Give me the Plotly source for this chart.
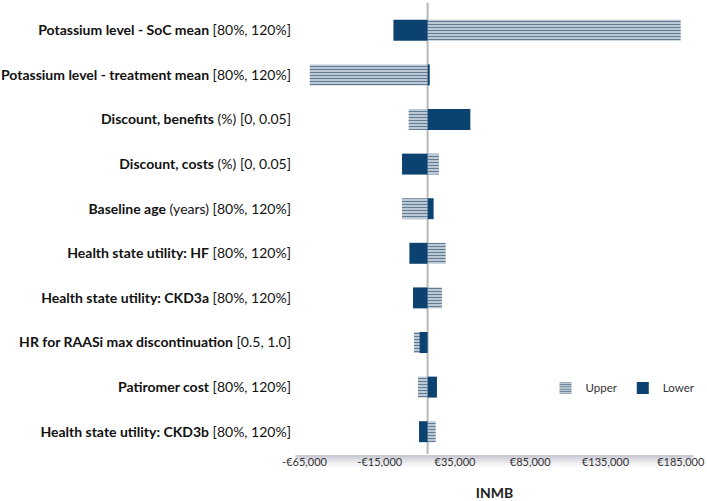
import plotly.graph_objects as go

# ---- data ----
params_bold = [
    "Potassium level - SoC mean",
    "Potassium level - treatment mean",
    "Discount, benefits",
    "Discount, costs",
    "Baseline age",
    "Health state utility: HF",
    "Health state utility: CKD3a",
    "HR for RAASi max discontinuation",
    "Patiromer cost",
    "Health state utility: CKD3b",
]
params_rest = [
    "[80%, 120%]",
    "[80%, 120%]",
    "(%) [0, 0.05]",
    "(%) [0, 0.05]",
    "(years) [80%, 120%]",
    "[80%, 120%]",
    "[80%, 120%]",
    "[0.5, 1.0]",
    "[80%, 120%]",
    "[80%, 120%]",
]
base_inmb = 16800
upper_vals = [185000, -61500, 4200, 24300, -200, 28800, 26300, 7800, 10400, 22200]
lower_vals = [-5900, 18200, 45200, -200, 20800, 4700, 7100, 11500, 23000, 11100]
tick_vals = [-65000, -15000, 35000, 85000, 135000, 185000]
tick_text = ["-€65,000", "-€15,000", "€35,000", "€85,000", "€135,000", "€185,000"]

labels = [f"<b>{b}</b> {r}" for b, r in zip(params_bold, params_rest)]

DARK = "#0b4270"
fig = go.Figure()
fig.add_trace(go.Bar(
    name="Upper", y=labels, x=[v - base_inmb for v in upper_vals], base=base_inmb,
    orientation="h", width=0.47,
    marker=dict(color="#cfd9e2", line=dict(width=0),
                pattern=dict(shape="-", fgcolor="#607d95", bgcolor="#cfd9e2",
                             size=3, solidity=0.45, fillmode="replace")),
))
fig.add_trace(go.Bar(
    name="Lower", y=labels, x=[v - base_inmb for v in lower_vals], base=base_inmb,
    orientation="h", width=0.47,
    marker=dict(color=DARK, line=dict(width=0)),
))

# center (base case) line
fig.add_shape(type="line", xref="x", yref="paper", x0=base_inmb, x1=base_inmb,
              y0=0, y1=1.012, line=dict(color="#b8b8b8", width=2), layer="below")
# axis shadow band (soft gradient fading downward)
px = 1 / 446.0
for i, op in enumerate([0.55, 0.45, 0.34, 0.24, 0.14, 0.07]):
    fig.add_shape(type="rect", xref="paper", yref="paper",
                  x0=-0.012 + i * 0.003, x1=1.012 - i * 0.003,
                  y0=-(1 + 2 * i + 2) * px, y1=-(1 + 2 * i) * px,
                  line=dict(width=0), fillcolor=f"rgba(160,160,180,{op})", layer="below")

fig.update_layout(
    width=707, height=501,
    margin=dict(l=300, r=17, t=8, b=47),
    barmode="overlay",
    plot_bgcolor="white", paper_bgcolor="white",
    font=dict(family="Lato", color="#1a1a1a"),
    showlegend=True,
    legend=dict(orientation="h", x=1.027, xanchor="right",
                y=0.148, yanchor="middle",
                font=dict(size=11.5, color="#333"), bgcolor="rgba(0,0,0,0)",
                traceorder="normal", itemwidth=30),
    xaxis=dict(range=[-68000, 190500], tickvals=tick_vals, ticktext=tick_text,
               showgrid=False, zeroline=False, showline=False, ticks="",
               automargin=False, tickangle=0,
               tickfont=dict(size=11, color="#333"),
               title=dict(text="<b>INMB</b>", font=dict(size=14, color="#222"), standoff=22)),
    yaxis=dict(autorange="reversed", showgrid=False, zeroline=False, showline=False,
               automargin=False,
               ticks="", tickfont=dict(size=14, color="#111"), ticklabelstandoff=8),
)

fig.write_html("out.html", config={"displayModeBar": False},
               post_script="document.body.style.margin='0';")
